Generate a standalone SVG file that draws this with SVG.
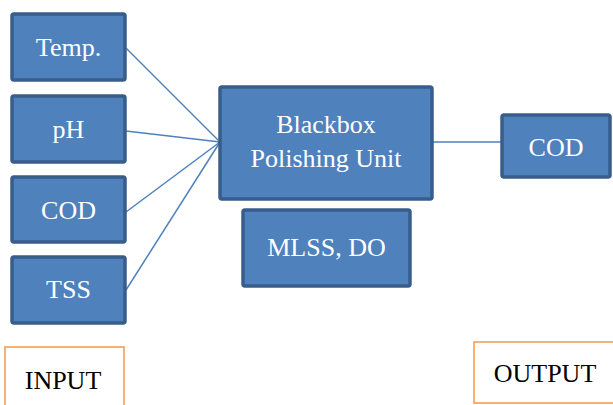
<svg xmlns="http://www.w3.org/2000/svg" width="613" height="405" viewBox="0 0 613 405">
<style>
.box{fill:#4F81BD;stroke:#385D8A;stroke-width:3.5}
.lbl{fill:#FFFFFF;font-family:"Liberation Serif","Times New Roman",Times,serif;font-size:26px;text-anchor:middle}
.tag{fill:#FFFFFF;stroke:#F79646;stroke-width:1.5}
.tagt{fill:#000000;font-family:"Liberation Serif","Times New Roman",Times,serif;font-size:26px;text-anchor:middle}
.conn{stroke:#4F81BD;stroke-width:1.5;fill:none}
</style>
<rect width="613" height="405" fill="#FFFFFF"/>
<g id="connectors">
<line class="conn" x1="126" y1="48" x2="220" y2="142"/>
<line class="conn" x1="126" y1="131" x2="220" y2="142"/>
<line class="conn" x1="126" y1="212" x2="220" y2="142"/>
<line class="conn" x1="126" y1="290" x2="220" y2="142"/>
<line class="conn" x1="433" y1="142" x2="501" y2="142"/>
</g>
<g id="temp"><rect class="box" x="12" y="14" width="113" height="66" rx="2"/><text class="lbl" x="68.5" y="56">Temp.</text></g>
<g id="ph"><rect class="box" x="12" y="96" width="113" height="66" rx="2"/><text class="lbl" x="68.5" y="138">pH</text></g>
<g id="cod-in"><rect class="box" x="12" y="177" width="113" height="65" rx="2"/><text class="lbl" x="68.5" y="219">COD</text></g>
<g id="tss"><rect class="box" x="12" y="257" width="113" height="66" rx="2"/><text class="lbl" x="68.5" y="298">TSS</text></g>
<g id="blackbox"><rect class="box" x="220" y="87" width="212" height="112" rx="2"/><text class="lbl" x="326" y="133">Blackbox</text><text class="lbl" x="326" y="167">Polishing Unit</text></g>
<g id="mlss"><rect class="box" x="243" y="210" width="167" height="76" rx="2"/><text class="lbl" x="326.5" y="256">MLSS, DO</text></g>
<g id="cod-out"><rect class="box" x="502" y="115" width="108" height="62" rx="2"/><text class="lbl" x="556" y="156">COD</text></g>
<g id="input"><rect class="tag" x="5" y="347" width="119" height="62"/><text class="tagt" x="63" y="389">INPUT</text></g>
<g id="output"><rect class="tag" x="474" y="342" width="145" height="61"/><text class="tagt" x="545" y="382">OUTPUT</text></g>
</svg>
